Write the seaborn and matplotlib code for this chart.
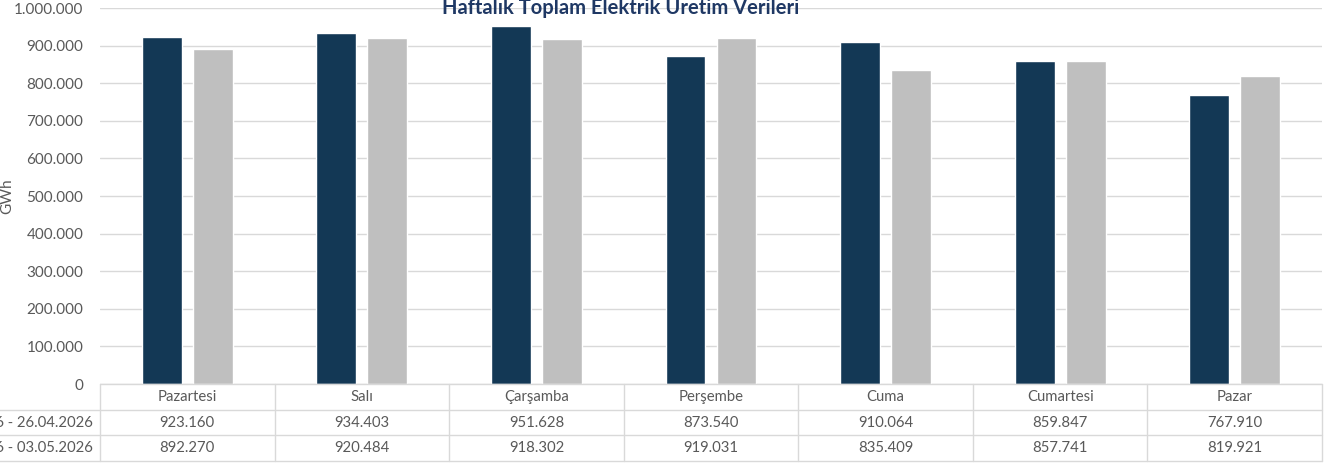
import matplotlib
matplotlib.use("Agg")
import matplotlib.pyplot as plt
import matplotlib.ticker as mticker
import pandas as pd
import seaborn as sns

# data
days = ["Pazartesi", "Salı", "Çarşamba", "Perşembe", "Cuma", "Cumartesi", "Pazar"]
week_labels = ["20.04.2026 - 26.04.2026", "27.04.2026 - 03.05.2026"]
week1 = [923160, 934403, 951628, 873540, 910064, 859847, 767910]
week2 = [892270, 920484, 918302, 919031, 835409, 857741, 819921]
yticks = list(range(0, 1000001, 100000))

colors = {week_labels[0]: "#133855", week_labels[1]: "#BFBFBF"}
grid_c = "#D9D9D9"
text_c = "#595959"

df = pd.DataFrame({
    "day": days * 2,
    "week": [week_labels[0]] * 7 + [week_labels[1]] * 7,
    "value": week1 + week2,
})

def fmt(v):
    return f"{v:,.0f}".replace(",", ".")

sns.set_style("white")
plt.rcParams["font.family"] = ["Lato", "DejaVu Sans"]

fig = plt.figure(figsize=(13.44, 4.68), dpi=100)
ax = fig.add_axes([100 / 1344, 1 - 384 / 468, 1222 / 1344, 376 / 468])

sns.barplot(data=df, x="day", y="value", hue="week", palette=colors,
            order=days, hue_order=week_labels, width=0.584, gap=0.216,
            saturation=1, legend=False, ax=ax)

ax.set_xlim(-0.5, 6.5)
ax.set_ylim(0, 1000000)
ax.set_yticks(yticks)
ax.yaxis.set_major_formatter(mticker.FuncFormatter(lambda v, p: fmt(v)))
ax.tick_params(axis="y", length=0, labelsize=11, labelcolor=text_c, pad=12)
ax.set_xticks([])
ax.set_xlabel("")
ax.set_ylabel("GWh", fontsize=11, color=text_c)
ax.yaxis.set_label_coords(-0.07, 0.5)
ax.grid(axis="y", color=grid_c, linewidth=1)
ax.set_axisbelow(True)
for s in ax.spines.values():
    s.set_visible(False)

# title (clipped at top like the source)
fig.text(621 / 1344, 1 - 6 / 468, "Haftalık Toplam Elektrik Üretim Verileri",
         ha="center", va="center", fontsize=14.5, fontweight="bold", color="#1F3864")

# data table below the axes
rh = 25.7 / 376
n = len(days)
tkw = dict(transform=ax.transAxes, clip_on=False, color=grid_c, linewidth=1)
ax.plot([0, 1], [0, 0], **tkw)
for r in range(1, 4):
    ax.plot([-0.2, 1], [-r * rh, -r * rh], **tkw)
for c in range(n + 1):
    ax.plot([c / n, c / n], [0, -3 * rh], **tkw)

rows = [days, [fmt(v) for v in week1], [fmt(v) for v in week2]]
for r, row in enumerate(rows):
    for c, txt in enumerate(row):
        ax.text((c + 0.5) / n, -(r + 0.5) * rh, txt, transform=ax.transAxes,
                ha="center", va="center", fontsize=10.7, color=text_c)
for r, lab in enumerate(week_labels):
    ax.text(-0.006, -(r + 1.5) * rh, lab, transform=ax.transAxes,
            ha="right", va="center", fontsize=10.7, color=text_c)

fig.savefig("out.png", dpi=100)
